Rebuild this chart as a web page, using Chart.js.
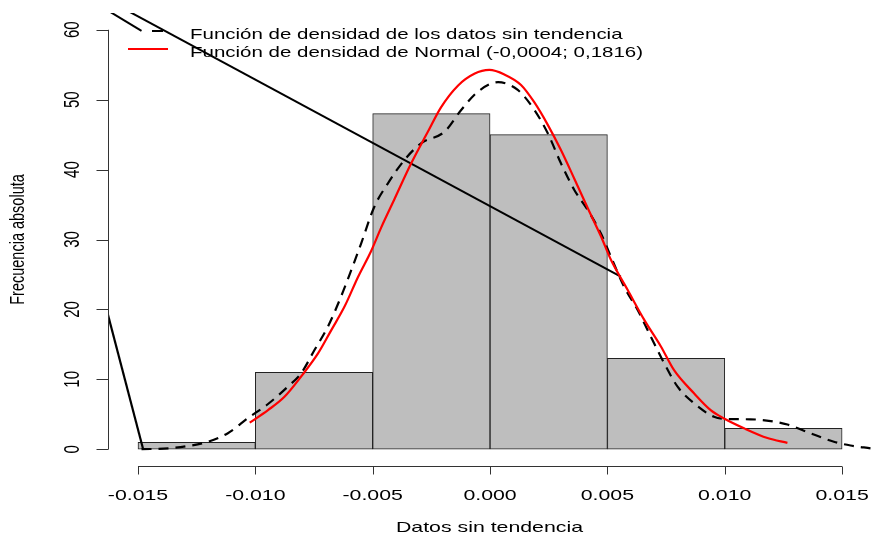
<!DOCTYPE html>
<html>
<head>
<meta charset="utf-8">
<script src="https://cdn.jsdelivr.net/npm/chart.js@4/dist/chart.umd.min.js"></script>
<style>
html,body{margin:0;padding:0;background:#fff;}
canvas{display:block;}
</style>
</head>
<body>
<canvas id="c" width="871" height="537"></canvas>
<script>
// Histogram
const binCenters = [-0.0125, -0.0075, -0.0025, 0.0025, 0.0075, 0.0125];
const binCounts  = [1, 11, 48, 45, 13, 3];

// Kernel density of detrended data (dashed black)
const densX = [-0.01485,-0.01371,-0.01286,-0.01202,-0.01117,-0.01031,-0.00946,-0.00862,-0.00805,-0.00748,-0.00691,-0.00635,-0.00591,-0.00549,-0.00493,-0.00435,-0.00365,-0.00294,-0.00194,-0.00123,-0.00052,0.00034,0.00118,0.00189,0.00246,0.00302,0.00359,0.00416,0.00472,0.00515,0.00571,0.00629,0.00685,0.00742,0.00799,0.00869,0.00954,0.01011,0.0111,0.01196,0.01267,0.01366,0.01465,0.01536,0.01621];
const densY = [0.0,0.13,0.46,1.07,2.29,4.46,6.47,8.94,10.86,14.19,17.53,21.82,25.64,29.46,34.69,38.04,41.37,43.76,45.42,48.53,51.14,52.5,51.39,48.53,45.19,40.9,37.08,34.22,30.89,27.54,23.25,19.91,16.09,12.29,8.94,6.57,4.65,4.32,4.28,4.03,3.53,2.27,1.07,0.53,0.13];

// Normal density (red)
const normX = [-0.01024,-0.00946,-0.00876,-0.00805,-0.00733,-0.00677,-0.0062,-0.00563,-0.00506,-0.00464,-0.00407,-0.00336,-0.00265,-0.00209,-0.00137,-0.00067,-0.00003,0.00061,0.00132,0.00189,0.00246,0.00302,0.00359,0.00416,0.00472,0.00515,0.00586,0.00657,0.00728,0.00784,0.00869,0.0094,0.00997,0.01082,0.01182,0.01267];
const normY = [3.8,5.6,7.5,10.4,13.7,17.0,20.4,24.6,28.4,31.7,35.8,40.9,45.4,48.9,52.0,53.7,54.25,53.6,52.1,49.6,46.4,42.8,38.7,34.5,30.5,27.1,22.8,18.5,14.7,11.3,8.0,5.6,4.4,3.0,1.6,0.9];

// Straight black segments
const lineAX = [-0.0172, 0.00557];
const lineAY = [65.9, 24.68];
const lineBX = [-0.0170, -0.01478];
const lineBY = [28.5, 0];
const lineCX = [-0.01702, -0.01485];
const lineCY = [64.26, 59.83];

// Axes
const xTickValues = [-0.015, -0.010, -0.005, 0, 0.005, 0.010, 0.015];
const xTickLabels = ["-0.015", "-0.010", "-0.005", "0.000", "0.005", "0.010", "0.015"];
const yTickValues = [0, 10, 20, 30, 40, 50, 60];
const yTickLabels = ["0", "10", "20", "30", "40", "50", "60"];

const xTitle = "Datos sin tendencia";
const yTitle = "Frecuencia absoluta";
const legendLabels = ["Función de densidad de los datos sin tendencia", "Función de densidad de Normal (-0,0004; 0,1816)"];

const pts = (xs, ys) => xs.map((x, i) => ({x: x, y: ys[i]}));

const SX = 1.42;
const SXL = 1.365;
const FONT = '15px "Liberation Sans", Arial, sans-serif';

const rAxes = {
  id: 'rAxes',
  afterDraw(chart) {
    const ctx = chart.ctx;
    const xs = chart.scales.x, ys = chart.scales.y;
    const ca = chart.chartArea;
    ctx.save();
    ctx.strokeStyle = '#333';
    ctx.fillStyle = '#000';
    ctx.lineWidth = 1;
    // y axis
    const ax = Math.round(ca.left) + 0.5;
    ctx.beginPath();
    ctx.moveTo(ax, ys.getPixelForValue(yTickValues[0]));
    ctx.lineTo(ax, ys.getPixelForValue(yTickValues[yTickValues.length - 1]));
    yTickValues.forEach(v => {
      const p = Math.round(ys.getPixelForValue(v)) + 0.5;
      ctx.moveTo(ax, p); ctx.lineTo(ax - 12, p);
    });
    ctx.stroke();
    ctx.font = FONT;
    ctx.textAlign = 'center';
    ctx.textBaseline = 'alphabetic';
    yTickValues.forEach((v, i) => {
      const p = ys.getPixelForValue(v);
      ctx.save();
      ctx.translate(79, p);
      ctx.scale(SX, 1);
      ctx.rotate(-Math.PI / 2);
      ctx.fillText(yTickLabels[i], 0, 0);
      ctx.restore();
    });
    // x axis
    const ay = Math.round(ca.bottom) + 0.5;
    ctx.beginPath();
    ctx.moveTo(xs.getPixelForValue(xTickValues[0]), ay);
    ctx.lineTo(xs.getPixelForValue(xTickValues[xTickValues.length - 1]), ay);
    xTickValues.forEach(v => {
      const p = Math.round(xs.getPixelForValue(v)) + 0.5;
      ctx.moveTo(p, ay); ctx.lineTo(p, ay + 8);
    });
    ctx.stroke();
    xTickValues.forEach((v, i) => {
      const p = xs.getPixelForValue(v);
      ctx.save();
      ctx.translate(p, 499.5);
      ctx.scale(SX, 1);
      ctx.fillText(xTickLabels[i], 0, 0);
      ctx.restore();
    });
    // titles
    ctx.save();
    ctx.translate((ca.left + ca.right) / 2, 532);
    ctx.scale(SX, 1);
    ctx.fillText(xTitle, 0, 0);
    ctx.restore();
    ctx.save();
    ctx.font = '14.5px "Liberation Sans", Arial, sans-serif';
    ctx.translate(24, (ca.top + ca.bottom) / 2);
    ctx.scale(SX, 1);
    ctx.rotate(-Math.PI / 2);
    ctx.fillText(yTitle, 0, 0);
    ctx.restore();
    // legend
    ctx.lineWidth = 2;
    ctx.strokeStyle = '#000';
    ctx.beginPath();
    ctx.moveTo(152, 31); ctx.lineTo(163, 31);
    ctx.stroke();
    ctx.strokeStyle = '#ff0000';
    ctx.beginPath();
    ctx.moveTo(128, 49); ctx.lineTo(168, 49);
    ctx.stroke();
    ctx.textAlign = 'left';
    ctx.fillStyle = '#000';
    [[legendLabels[0], 38.5], [legendLabels[1], 56.5]].forEach(([t, y]) => {
      ctx.save();
      ctx.translate(190, y);
      ctx.scale(SXL, 1);
      ctx.fillText(t, 0, 0);
      ctx.restore();
    });
    ctx.restore();
  }
};

new Chart(document.getElementById('c'), {
  type: 'bar',
  data: {
    datasets: [
      {
        type: 'line', data: pts(normX, normY), borderColor: '#ff0000', borderWidth: 2.2,
        pointRadius: 0, cubicInterpolationMode: 'monotone', fill: false, order: 1
      },
      {
        type: 'line', data: pts(densX, densY), borderColor: '#000', borderWidth: 2.2,
        borderDash: [10, 7], pointRadius: 0, cubicInterpolationMode: 'monotone', fill: false, order: 2
      },
      {
        type: 'line', data: pts(lineAX, lineAY), borderColor: '#000', borderWidth: 2,
        pointRadius: 0, tension: 0, fill: false, order: 3
      },
      {
        type: 'line', data: pts(lineBX, lineBY), borderColor: '#000', borderWidth: 2.2,
        pointRadius: 0, tension: 0, fill: false, order: 3
      },
      {
        type: 'line', data: pts(lineCX, lineCY), borderColor: '#000', borderWidth: 2,
        pointRadius: 0, tension: 0, fill: false, order: 3
      },
      {
        type: 'bar', data: pts(binCenters, binCounts), backgroundColor: '#bebebe',
        borderColor: '#222', borderWidth: 1, borderSkipped: false,
        barPercentage: 1, categoryPercentage: 1, order: 10
      }
    ]
  },
  options: {
    responsive: false,
    animation: false,
    layout: { padding: { left: 108, right: 0, top: 13, bottom: 71 } },
    plugins: { legend: { display: false }, tooltip: { enabled: false } },
    scales: {
      x: { type: 'linear', min: -0.016278, max: 0.016231, offset: false, display: false },
      y: { type: 'linear', min: -2.4, max: 62.4, display: false }
    }
  },
  plugins: [rAxes]
});
</script>
</body>
</html>
